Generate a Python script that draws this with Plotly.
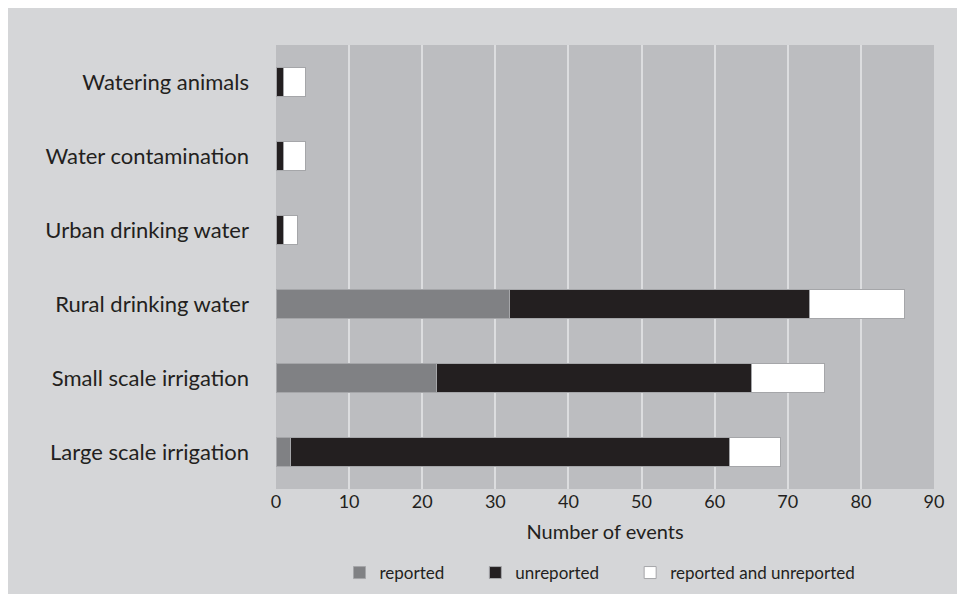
import plotly.graph_objects as go

categories = ["Large scale irrigation", "Small scale irrigation", "Rural drinking water",
              "Urban drinking water", "Water contamination", "Watering animals"]
reported = [2, 22, 32, 0, 0, 0]
unreported = [60, 43, 41, 1, 1, 1]
reported_and_unreported = [7, 10, 13, 2, 3, 3]
series_names = ["reported", "unreported", "reported and unreported"]
x_ticks = [0, 10, 20, 30, 40, 50, 60, 70, 80, 90]

colors = ["#808184", "#231f20", "#ffffff"]
outer_bg = "#d5d6d8"
plot_bg = "#bcbdc0"
text_color = "#231f20"
font_family = "Lato, 'Open Sans', sans-serif"

# extra spacing after the first two legend entries
pad = "\u00a0" * 6
legend_labels = [series_names[0] + pad, series_names[1] + pad, series_names[2]]

fig = go.Figure()
for name, vals, col in zip(legend_labels, [reported, unreported, reported_and_unreported], colors):
    fig.add_trace(go.Bar(
        y=categories, x=vals, name=name, orientation="h",
        marker=dict(color=col, line=dict(color="#a5a6a9", width=1)),
    ))

# page body has an 8px margin; figure sized to fill the rest of the 965x594 window
W, H = 957, 586
ml, mr, mt, mb = 268, 31, 37, 105
pw = W - ml - mr
ph = H - mt - mb

def px_y(p):
    return (H - mb - p) / ph

fig.update_layout(
    width=W, height=H,
    barmode="stack", bargap=0.61,
    paper_bgcolor=outer_bg, plot_bgcolor=plot_bg,
    margin=dict(l=ml, r=mr, t=mt, b=mb, autoexpand=False),
    font=dict(family=font_family, color=text_color, size=18),
    showlegend=True,
    legend=dict(orientation="h", x=0.5 - 5 / pw, xanchor="center", y=px_y(565), yanchor="middle",
                font=dict(size=17), bgcolor="rgba(0,0,0,0)", traceorder="normal"),
    xaxis=dict(range=[0, 90], tickvals=x_ticks, showgrid=True, gridcolor="#dcdddf",
               gridwidth=2, zeroline=False, showline=False, ticks="", tickfont=dict(size=18),
               ticklabelstandoff=0,
               title=dict(text="Number of events", font=dict(size=20), standoff=13)),
    yaxis=dict(showgrid=False, zeroline=False, showline=False, ticks="",
               tickfont=dict(size=22), ticklabelstandoff=26,
               categoryorder="array", categoryarray=categories),
)

fig.write_html("out.html")
